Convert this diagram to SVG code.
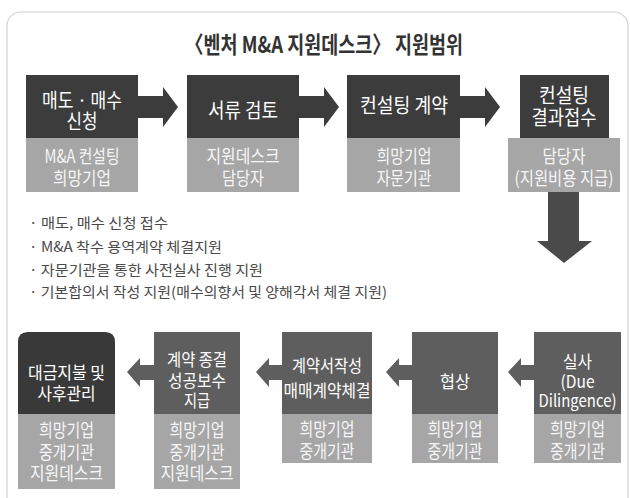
<svg xmlns="http://www.w3.org/2000/svg" width="630" height="498" viewBox="0 0 630 498">
<style>
text{font-family:"Noto Sans CJK KR","Noto Sans",sans-serif;text-anchor:middle;dominant-baseline:central}
.t{font-size:20px;fill:#ffffff}
.s{font-size:18px;fill:#f6f6f6}
.b{font-size:17px;fill:#ffffff}
.dk{fill:#3c3c3c}
.md{fill:#5e5e5e}
.lt{fill:#a6a6a6}
.li{font-size:14px;fill:#4a4a4a;text-anchor:start}
.arT{fill:#3c3c3c}
.arB{fill:#5e5e5e}
</style>
<rect x="7" y="12" width="621" height="500" rx="14" fill="#ffffff" stroke="#d2d2d2" stroke-width="1.2"/>
<text x="324" y="43" font-size="23" font-weight="700" fill="#333333" textLength="278" lengthAdjust="spacingAndGlyphs">〈벤처 M&amp;A 지원데스크〉 지원범위</text>

<g id="connectors">
<polygon class="arT" points="138,96 163,96 163,87 178,107 163,127 163,118 138,118"/>
<polygon class="arT" points="299,96 324,96 324,87 339,107 324,127 324,118 299,118"/>
<polygon class="arT" points="460,96 485,96 485,87 500,107 485,127 485,118 460,118"/>
<polygon fill="#4a4a4a" points="548,192 579,192 579,241 592,241 564,263 537,241 548,241"/>
<polygon class="arB" points="154,365 140,365 140,358 127,372 140,387 140,380 154,380"/>
<polygon class="arB" points="282,365 269,365 269,358 256,372 269,387 269,380 282,380"/>
<polygon class="arB" points="412,365 399,365 399,358 386,372 399,387 399,380 412,380"/>
<polygon class="arB" points="534,365 521,365 521,358 508,372 521,387 521,380 534,380"/>
</g>

<g id="n1">
<rect class="dk" x="26" y="75" width="112" height="63"/>
<rect class="lt" x="26" y="138" width="112" height="54"/>
<text class="t" x="82" y="99" textLength="80" lengthAdjust="spacingAndGlyphs">매도 · 매수</text>
<text class="t" x="82" y="120" textLength="31" lengthAdjust="spacingAndGlyphs">신청</text>
<text class="s" x="82" y="155" textLength="75" lengthAdjust="spacingAndGlyphs">M&amp;A 컨설팅</text>
<text class="s" x="82" y="177" textLength="58" lengthAdjust="spacingAndGlyphs">희망기업</text>
</g>
<g id="n2">
<rect class="dk" x="187" y="75" width="112" height="63"/>
<rect class="lt" x="187" y="138" width="112" height="54"/>
<text class="t" x="243" y="109" textLength="70" lengthAdjust="spacingAndGlyphs">서류 검토</text>
<text class="s" x="243" y="155" textLength="73" lengthAdjust="spacingAndGlyphs">지원데스크</text>
<text class="s" x="243" y="177" textLength="42" lengthAdjust="spacingAndGlyphs">담당자</text>
</g>
<g id="n3">
<rect class="dk" x="347" y="75" width="113" height="63"/>
<rect class="lt" x="347" y="138" width="113" height="54"/>
<text class="t" x="404" y="104" textLength="88" lengthAdjust="spacingAndGlyphs">컨설팅 계약</text>
<text class="s" x="404" y="155" textLength="55" lengthAdjust="spacingAndGlyphs">희망기업</text>
<text class="s" x="404" y="177" textLength="55" lengthAdjust="spacingAndGlyphs">자문기관</text>
</g>
<g id="n4">
<rect class="dk" x="520" y="75" width="89" height="63"/>
<rect class="lt" x="508" y="138" width="112" height="54"/>
<text class="t" x="564" y="94" textLength="50" lengthAdjust="spacingAndGlyphs">컨설팅</text>
<text class="t" x="564" y="116" textLength="65" lengthAdjust="spacingAndGlyphs">결과접수</text>
<text class="s" x="564" y="155" textLength="43" lengthAdjust="spacingAndGlyphs">담당자</text>
<text class="s" x="564" y="177" textLength="99" lengthAdjust="spacingAndGlyphs">(지원비용 지급)</text>
</g>

<g id="list">
<text class="li" x="29" y="222" textLength="139" lengthAdjust="spacingAndGlyphs">·  매도, 매수 신청 접수</text>
<text class="li" x="29" y="246" textLength="193" lengthAdjust="spacingAndGlyphs">·  M&amp;A 착수 용역계약 체결지원</text>
<text class="li" x="29" y="269" textLength="234" lengthAdjust="spacingAndGlyphs">·  자문기관을 통한 사전실사 진행 지원</text>
<text class="li" x="29" y="291" textLength="358" lengthAdjust="spacingAndGlyphs">·  기본합의서 작성 지원(매수의향서 및 양해각서 체결 지원)</text>
</g>

<g id="n5">
<path fill="#393939" d="M18,414 V342 Q18,332 28,332 H105 Q115,332 115,342 V414 Z"/>
<rect class="lt" x="18" y="414" width="97" height="75"/>
<text class="b" x="66.5" y="371" textLength="77" lengthAdjust="spacingAndGlyphs">대금지불 및</text>
<text class="b" x="66.5" y="392" textLength="58" lengthAdjust="spacingAndGlyphs">사후관리</text>
<text class="s" x="66.5" y="429" textLength="55" lengthAdjust="spacingAndGlyphs">희망기업</text>
<text class="s" x="66.5" y="451" textLength="55" lengthAdjust="spacingAndGlyphs">중개기관</text>
<text class="s" x="66.5" y="472" textLength="73" lengthAdjust="spacingAndGlyphs">지원데스크</text>
</g>
<g id="n6">
<rect class="md" x="154" y="332" width="86" height="82"/>
<rect class="lt" x="154" y="414" width="86" height="75"/>
<text class="b" x="197" y="358" textLength="60" lengthAdjust="spacingAndGlyphs">계약 종결</text>
<text class="b" x="197" y="379" textLength="58" lengthAdjust="spacingAndGlyphs">성공보수</text>
<text class="b" x="197" y="399" textLength="26" lengthAdjust="spacingAndGlyphs">지급</text>
<text class="s" x="197" y="429" textLength="55" lengthAdjust="spacingAndGlyphs">희망기업</text>
<text class="s" x="197" y="451" textLength="55" lengthAdjust="spacingAndGlyphs">중개기관</text>
<text class="s" x="197" y="472" textLength="73" lengthAdjust="spacingAndGlyphs">지원데스크</text>
</g>
<g id="n7">
<rect class="md" x="282" y="332" width="90" height="82"/>
<rect class="lt" x="282" y="414" width="90" height="49"/>
<text class="b" x="327" y="364" textLength="70" lengthAdjust="spacingAndGlyphs">계약서작성</text>
<text class="b" x="327" y="389" textLength="87" lengthAdjust="spacingAndGlyphs">매매계약체결</text>
<text class="s" x="327" y="428" textLength="55" lengthAdjust="spacingAndGlyphs">희망기업</text>
<text class="s" x="327" y="450" textLength="55" lengthAdjust="spacingAndGlyphs">중개기관</text>
</g>
<g id="n8">
<rect class="md" x="412" y="332" width="86" height="82"/>
<rect class="lt" x="412" y="414" width="86" height="49"/>
<text class="b" x="455" y="380" textLength="30" lengthAdjust="spacingAndGlyphs">협상</text>
<text class="s" x="455" y="428" textLength="55" lengthAdjust="spacingAndGlyphs">희망기업</text>
<text class="s" x="455" y="450" textLength="55" lengthAdjust="spacingAndGlyphs">중개기관</text>
</g>
<g id="n9">
<rect class="md" x="534" y="332" width="87" height="82"/>
<rect class="lt" x="534" y="414" width="87" height="49"/>
<text class="b" x="577.5" y="360" textLength="29" lengthAdjust="spacingAndGlyphs">실사</text>
<text class="b" x="577.5" y="380" textLength="34" lengthAdjust="spacingAndGlyphs">(Due</text>
<text class="b" x="577.5" y="399" textLength="78" lengthAdjust="spacingAndGlyphs">Dilingence)</text>
<text class="s" x="577.5" y="428" textLength="55" lengthAdjust="spacingAndGlyphs">희망기업</text>
<text class="s" x="577.5" y="450" textLength="55" lengthAdjust="spacingAndGlyphs">중개기관</text>
</g>
</svg>
